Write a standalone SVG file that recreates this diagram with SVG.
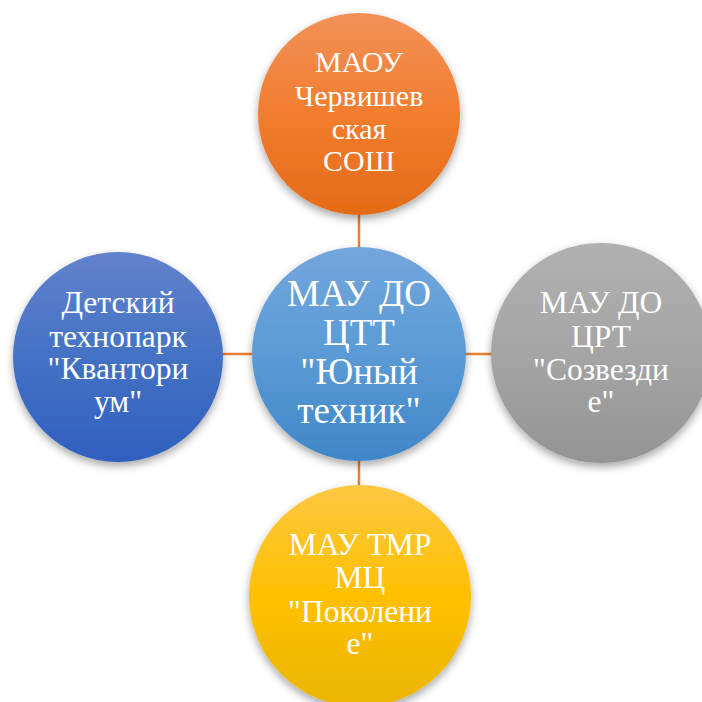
<svg xmlns="http://www.w3.org/2000/svg" width="702" height="702" viewBox="0 0 702 702">
<defs>
<linearGradient id="gOrange" x1="0" y1="0" x2="0" y2="1"><stop offset="0" stop-color="#F19159"/><stop offset="0.5" stop-color="#F27D2E"/><stop offset="1" stop-color="#E36B17"/></linearGradient>
<linearGradient id="gCenter" x1="0" y1="0" x2="0" y2="1"><stop offset="0" stop-color="#73A6DC"/><stop offset="0.5" stop-color="#5B9BD5"/><stop offset="1" stop-color="#3F86C8"/></linearGradient>
<linearGradient id="gLeft" x1="0" y1="0" x2="0" y2="1"><stop offset="0" stop-color="#6282CD"/><stop offset="0.5" stop-color="#4472C4"/><stop offset="1" stop-color="#2F5FBE"/></linearGradient>
<linearGradient id="gGray" x1="0" y1="0" x2="0" y2="1"><stop offset="0" stop-color="#B1B1B1"/><stop offset="0.5" stop-color="#A5A5A5"/><stop offset="1" stop-color="#949494"/></linearGradient>
<linearGradient id="gYellow" x1="0" y1="0" x2="0" y2="1"><stop offset="0" stop-color="#FDC843"/><stop offset="0.5" stop-color="#FFC000"/><stop offset="1" stop-color="#EAB500"/></linearGradient>
<filter id="sh" x="-20%" y="-20%" width="140%" height="145%"><feDropShadow dx="0" dy="4" stdDeviation="4" flood-color="#000" flood-opacity="0.35"/></filter>
</defs>
<style>
text{font-family:'Liberation Serif','Times New Roman',serif;fill:#fff;text-anchor:middle;font-size:31.5px}
.top{font-size:30px}
.big{font-size:37px}
.conn{stroke:#ED7D31;stroke-width:2.5;fill:none}
</style>
<g id="connectors">
<line class="conn" x1="359" y1="210" x2="359" y2="252"/>
<line class="conn" x1="220" y1="354" x2="252" y2="354"/>
<line class="conn" x1="466" y1="354" x2="494" y2="354"/>
<line class="conn" x1="359" y1="456" x2="359" y2="488"/>
</g>
<g id="node-top">
<circle cx="359" cy="114" r="101" fill="url(#gOrange)" filter="url(#sh)"/>
<text class="top"><tspan x="359" y="72">МАОУ</tspan><tspan x="359" y="106">Червишев</tspan><tspan x="359" y="139">ская</tspan><tspan x="359" y="171">СОШ</tspan></text>
</g>
<g id="node-left">
<circle cx="118" cy="357" r="105" fill="url(#gLeft)" filter="url(#sh)"/>
<text><tspan x="118" y="313">Детский</tspan><tspan x="118" y="347">технопарк</tspan><tspan x="118" y="379">"Квантори</tspan><tspan x="118" y="412">ум"</tspan></text>
</g>
<g id="node-right">
<circle cx="601" cy="353" r="110" fill="url(#gGray)" filter="url(#sh)"/>
<text><tspan x="601" y="313">МАУ ДО</tspan><tspan x="601" y="347">ЦРТ</tspan><tspan x="601" y="380">"Созвезди</tspan><tspan x="601" y="412">е"</tspan></text>
</g>
<g id="node-bottom">
<circle cx="360" cy="596" r="111" fill="url(#gYellow)" filter="url(#sh)"/>
<text><tspan x="360" y="555">МАУ ТМР</tspan><tspan x="360" y="588">МЦ</tspan><tspan x="360" y="622">"Поколени</tspan><tspan x="360" y="654">е"</tspan></text>
</g>
<g id="node-center">
<circle cx="359" cy="354" r="107" fill="url(#gCenter)" filter="url(#sh)"/>
<text class="big"><tspan x="359" y="306">МАУ ДО</tspan><tspan x="359" y="345">ЦТТ</tspan><tspan x="359" y="384">"Юный</tspan><tspan x="359" y="423">техник"</tspan></text>
</g>
</svg>
